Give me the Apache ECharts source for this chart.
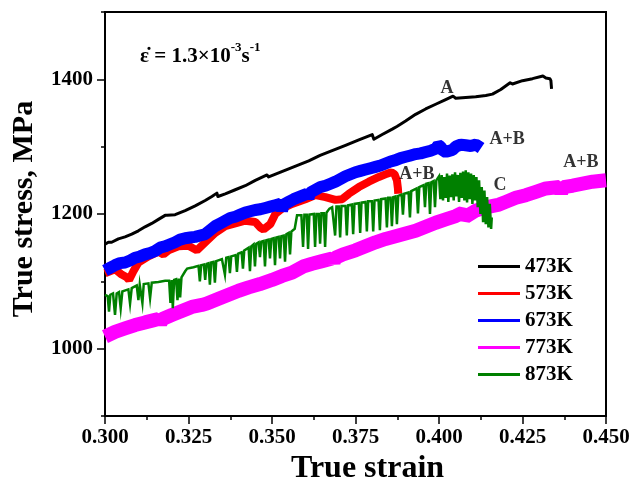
<!DOCTYPE html>
<html><head><meta charset="utf-8">
<script src="https://cdn.jsdelivr.net/npm/echarts@6/dist/echarts.min.js"></script>
<style>html,body{margin:0;padding:0;background:#fff}#c{width:642px;height:490px}</style>
</head><body><div id="c"></div>
<script>
var FONT = "'Liberation Serif','Times New Roman',serif";

var legendNames = ['473K', '573K', '673K', '773K', '873K'];
var xTickLabels = ['0.300', '0.325', '0.350', '0.375', '0.400', '0.425', '0.450'];
var yTickLabels = [1000, 1200, 1400];
var yMinorTicks = [900, 1100, 1300, 1500];

var k473 = [[0.3000,1155],[0.3010,1158],[0.3020,1158],[0.3040,1163],[0.3060,1166],[0.3080,1170],[0.3100,1175],[0.3120,1181],[0.3140,1186],[0.3160,1192],[0.3180,1198],[0.3186,1198],[0.3190,1196],[0.3210,1199],[0.3240,1205],[0.3270,1212],[0.3300,1220],[0.3320,1226],[0.3335,1231],[0.3338,1226],[0.3360,1230],[0.3390,1236],[0.3420,1242],[0.3450,1250],[0.3485,1258],[0.3490,1255],[0.3520,1261],[0.3550,1267],[0.3580,1273],[0.3610,1279],[0.3644,1287],[0.3680,1294],[0.3720,1302],[0.3760,1310],[0.3800,1318],[0.3805,1311],[0.3830,1318],[0.3860,1326],[0.3874,1330],[0.3900,1338],[0.3930,1348],[0.3960,1356],[0.3990,1363],[0.4020,1370],[0.4042,1375],[0.4050,1372],[0.4080,1373],[0.4110,1374],[0.4140,1376],[0.4160,1378],[0.4185,1385],[0.4213,1395],[0.4220,1393],[0.4250,1398],[0.4280,1401],[0.4311,1405],[0.4320,1402],[0.4332,1401],[0.4335,1398],[0.4337,1386]];

var k573 = [[0.3000,1112],[0.3030,1118],[0.3050,1110],[0.3065,1106],[0.3072,1102],[0.3085,1115],[0.3100,1128],[0.3130,1137],[0.3160,1144],[0.3175,1140],[0.3190,1146],[0.3220,1152],[0.3250,1153],[0.3275,1146],[0.3300,1158],[0.3330,1172],[0.3360,1182],[0.3390,1186],[0.3420,1190],[0.3450,1188],[0.3465,1180],[0.3475,1177],[0.3495,1185],[0.3510,1200],[0.3530,1208],[0.3560,1215],[0.3600,1222],[0.3630,1228],[0.3660,1225],[0.3690,1221],[0.3710,1222],[0.3730,1230],[0.3760,1240],[0.3790,1248],[0.3820,1255],[0.3845,1260],[0.3858,1262],[0.3867,1259],[0.3874,1250],[0.3877,1238],[0.3878,1230]];

var k673 = [[0.3000,1116],[0.3015,1120],[0.3030,1124],[0.3045,1127],[0.3060,1128],[0.3075,1131],[0.3090,1135],[0.3105,1137],[0.3120,1140],[0.3135,1142],[0.3150,1145],[0.3165,1150],[0.3180,1152],[0.3195,1155],[0.3210,1158],[0.3225,1162],[0.3240,1164],[0.3255,1165],[0.3270,1166],[0.3285,1168],[0.3300,1170],[0.3315,1176],[0.3330,1182],[0.3345,1186],[0.3360,1190],[0.3375,1194],[0.3390,1196],[0.3405,1199],[0.3420,1202],[0.3435,1204],[0.3450,1206],[0.3465,1207],[0.3480,1209],[0.3495,1211],[0.3510,1213],[0.3525,1215],[0.3530,1205],[0.3535,1214],[0.3550,1218],[0.3565,1222],[0.3580,1225],[0.3595,1228],[0.3605,1230],[0.3609,1224],[0.3615,1232],[0.3630,1236],[0.3645,1240],[0.3660,1242],[0.3675,1245],[0.3690,1248],[0.3705,1252],[0.3720,1256],[0.3735,1259],[0.3750,1262],[0.3765,1264],[0.3780,1266],[0.3795,1268],[0.3810,1270],[0.3825,1272],[0.3840,1275],[0.3855,1278],[0.3870,1280],[0.3885,1283],[0.3900,1285],[0.3915,1287],[0.3930,1289],[0.3945,1290],[0.3960,1292],[0.3975,1294],[0.3990,1297],[0.3998,1302],[0.4005,1300],[0.4012,1293],[0.4025,1293],[0.4040,1295],[0.4050,1300],[0.4065,1303],[0.4080,1302],[0.4095,1301],[0.4110,1303],[0.4120,1300],[0.4126,1298]];

var k773 = [[0.3000,1018],[0.3030,1025],[0.3060,1030],[0.3090,1035],[0.3120,1039],[0.3144,1042],[0.3160,1044],[0.3166,1038],[0.3172,1044],[0.3200,1050],[0.3230,1056],[0.3260,1062],[0.3290,1065],[0.3305,1067],[0.3340,1074],[0.3370,1080],[0.3400,1086],[0.3430,1091],[0.3464,1096],[0.3500,1102],[0.3530,1108],[0.3560,1113],[0.3593,1122],[0.3620,1126],[0.3650,1130],[0.3680,1134],[0.3685,1129],[0.3690,1135],[0.3713,1140],[0.3750,1146],[0.3780,1152],[0.3810,1158],[0.3840,1163],[0.3870,1167],[0.3900,1171],[0.3930,1175],[0.3960,1181],[0.3990,1187],[0.4020,1192],[0.4050,1197],[0.4070,1202],[0.4080,1196],[0.4110,1205],[0.4140,1210],[0.4180,1214],[0.4200,1218],[0.4230,1224],[0.4260,1228],[0.4290,1233],[0.4320,1238],[0.4360,1240],[0.4366,1232],[0.4372,1240],[0.4400,1242],[0.4430,1245],[0.4460,1248],[0.4500,1250]];

var k873 = [[0.3000,1080],[0.3008,1078],[0.3012,1055],[0.3016,1080],[0.3024,1082],[0.3030,1050],[0.3035,1082],[0.3042,1084],[0.3047,1060],[0.3052,1085],[0.3070,1088],[0.3075,1067],[0.3080,1090],[0.3095,1094],[0.3100,1072],[0.3104,1095],[0.3108,1095],[0.3112,1068],[0.3116,1096],[0.3130,1097],[0.3135,1075],[0.3140,1098],[0.3160,1099],[0.3180,1101],[0.3192,1101],[0.3196,1068],[0.3200,1102],[0.3203,1060],[0.3207,1102],[0.3213,1103],[0.3217,1072],[0.3221,1104],[0.3225,1076],[0.3229,1106],[0.3240,1115],[0.3246,1119],[0.3265,1121],[0.3280,1123],[0.3284,1100],[0.3288,1124],[0.3296,1125],[0.3300,1102],[0.3304,1126],[0.3310,1127],[0.3314,1095],[0.3318,1128],[0.3325,1129],[0.3329,1098],[0.3333,1130],[0.3350,1133],[0.3359,1110],[0.3363,1135],[0.3370,1136],[0.3374,1112],[0.3378,1137],[0.3391,1139],[0.3395,1114],[0.3399,1141],[0.3409,1143],[0.3413,1119],[0.3417,1146],[0.3430,1150],[0.3434,1115],[0.3438,1152],[0.3445,1155],[0.3449,1122],[0.3453,1156],[0.3460,1158],[0.3464,1136],[0.3468,1159],[0.3475,1160],[0.3479,1122],[0.3483,1161],[0.3490,1162],[0.3494,1134],[0.3498,1163],[0.3505,1164],[0.3509,1124],[0.3513,1165],[0.3520,1166],[0.3524,1134],[0.3528,1167],[0.3535,1168],[0.3539,1129],[0.3543,1170],[0.3550,1172],[0.3554,1140],[0.3558,1174],[0.3568,1178],[0.3575,1198],[0.3588,1198],[0.3593,1151],[0.3597,1199],[0.3604,1199],[0.3608,1148],[0.3612,1199],[0.3625,1200],[0.3629,1151],[0.3633,1200],[0.3640,1200],[0.3644,1156],[0.3648,1201],[0.3655,1201],[0.3659,1151],[0.3663,1202],[0.3672,1208],[0.3680,1210],[0.3689,1168],[0.3693,1211],[0.3700,1211],[0.3704,1165],[0.3708,1212],[0.3720,1212],[0.3724,1168],[0.3728,1213],[0.3739,1214],[0.3743,1170],[0.3747,1215],[0.3760,1216],[0.3764,1172],[0.3768,1217],[0.3780,1218],[0.3784,1174],[0.3788,1219],[0.3799,1219],[0.3803,1174],[0.3807,1220],[0.3819,1221],[0.3823,1176],[0.3827,1222],[0.3840,1223],[0.3844,1180],[0.3848,1224],[0.3855,1224],[0.3859,1182],[0.3863,1225],[0.3870,1226],[0.3874,1185],[0.3878,1227],[0.3888,1229],[0.3892,1199],[0.3896,1230],[0.3909,1232],[0.3913,1195],[0.3917,1234],[0.3933,1238],[0.3937,1201],[0.3941,1240],[0.3954,1243],[0.3958,1210],[0.3962,1245],[0.3969,1246],[0.3973,1200],[0.3977,1247],[0.3984,1249],[0.3988,1210],[0.3992,1250],[0.4000,1256],[0.4004,1222],[0.4008,1258],[0.4012,1220],[0.4016,1255],[0.4020,1224],[0.4024,1260],[0.4028,1218],[0.4032,1257],[0.4036,1225],[0.4040,1259],[0.4044,1220],[0.4048,1262],[0.4052,1226],[0.4056,1258],[0.4060,1218],[0.4064,1261],[0.4068,1224],[0.4072,1263],[0.4076,1220],[0.4080,1265],[0.4084,1217],[0.4088,1262],[0.4092,1222],[0.4096,1260],[0.4100,1215],[0.4104,1258],[0.4108,1220],[0.4112,1255],[0.4116,1210],[0.4120,1250],[0.4124,1200],[0.4128,1240],[0.4132,1188],[0.4136,1235],[0.4140,1185],[0.4144,1225],[0.4148,1180],[0.4152,1215],[0.4156,1178],[0.4158,1195]];

var curveLabels = [['A',0.4024,1387],['A+B',0.4204,1311],['A+B',0.3934,1259],['C',0.4183,1243],['A+B',0.4425,1276]];

var chart = echarts.init(document.getElementById('c'), null, {renderer: 'canvas'});

function lineSeries(name, data, color, width, join) {
  return {name: name, type: 'line', data: data, showSymbol: false, symbol: 'none',
    color: color, lineStyle: {color: color, width: width, join: join || 'bevel', cap: 'butt'}, animation: false, silent: true};
}

chart.setOption({
  animation: false,
  backgroundColor: '#fff',
  textStyle: {fontFamily: FONT},
  grid: {left: 105, right: 36, top: 12, bottom: 69, show: true, borderColor: '#000', borderWidth: 2, backgroundColor: 'transparent'},
  xAxis: {
    type: 'value', min: 0.3, max: 0.45, interval: 0.025,
    axisLine: {onZero: false, lineStyle: {color: '#000', width: 2}},
    axisTick: {show: true, inside: false, length: 8, lineStyle: {color: '#000', width: 1.5}},
    minorTick: {show: true, splitNumber: 2, length: 4, lineStyle: {color: '#000', width: 1.5}},
    splitLine: {show: false},
    axisLabel: {color: '#000', fontSize: 21, fontWeight: 'bold', fontFamily: FONT, margin: 11,
      formatter: function (v) { var i = Math.round((v - 0.3) / 0.025); return xTickLabels[i] || ''; }},
    name: 'True strain', nameLocation: 'middle', nameGap: 37,
    nameTextStyle: {color: '#000', fontSize: 32, fontWeight: 'bold', fontFamily: FONT, padding: [0, 0, 0, 24]}
  },
  yAxis: [{
    type: 'value', min: 900, max: 1500, position: 'left',
    axisLine: {onZero: false, lineStyle: {color: '#000', width: 2}},
    axisTick: {show: true, inside: false, length: 8, customValues: yTickLabels, lineStyle: {color: '#000', width: 1.5}},
    splitLine: {show: false},
    axisLabel: {color: '#000', fontSize: 21, fontWeight: 'bold', fontFamily: FONT, margin: 12, customValues: yTickLabels,
      formatter: function (v) { return String(v); }},
    name: 'True stress, MPa', nameLocation: 'middle', nameGap: 66,
    nameTextStyle: {color: '#000', fontSize: 30, fontWeight: 'bold', fontFamily: FONT, padding: [0, 0, 0, 10]}
  }, {
    type: 'value', min: 900, max: 1500, position: 'left',
    axisLine: {show: false},
    axisTick: {show: true, inside: false, length: 4, customValues: yMinorTicks, lineStyle: {color: '#000', width: 1.5}},
    splitLine: {show: false},
    axisLabel: {show: false}
  }],
  legend: {
    data: legendNames, orient: 'vertical', left: 473, top: 251,
    itemWidth: 42, itemHeight: 3, itemGap: 6, icon: 'rect',
    textStyle: {color: '#000', fontSize: 21, fontWeight: 'bold', fontFamily: FONT}
  },
  graphic: [{
    type: 'text', left: 140, top: 41, silent: true,
    style: {
      text: '{a|\u03B5\u0307 = 1.3\u00D710}{s|-3}{a|s}{s|-1}',
      rich: {
        a: {fontSize: 21, fontWeight: 'bold', fontFamily: FONT, fill: '#000', verticalAlign: 'bottom', lineHeight: 26},
        s: {fontSize: 13, fontWeight: 'bold', fontFamily: FONT, fill: '#000', verticalAlign: 'top', lineHeight: 26}
      }
    }
  }],
  series: [
    lineSeries('773K', k773, '#ff00ff', 14),
    lineSeries('573K', k573, '#ff0000', 8),
    lineSeries('673K', k673, '#0000ff', 12),
    lineSeries('873K', k873, '#008000', 2.5, 'miter'),
    lineSeries('473K', k473, '#000000', 3, 'round'),
    {type: 'scatter', data: curveLabels.map(function (d) { return [d[1], d[2], d[0]]; }),
     symbolSize: 2, itemStyle: {color: 'rgba(0,0,0,0)'}, silent: true, animation: false, z: 10,
     label: {show: true, position: 'inside', color: '#000', fontSize: 18, fontWeight: 'bold', fontFamily: FONT,
       formatter: function (p) { return p.data[2]; }},
     labelLayout: {hideOverlap: false}}
  ]
});
</script></body></html>
